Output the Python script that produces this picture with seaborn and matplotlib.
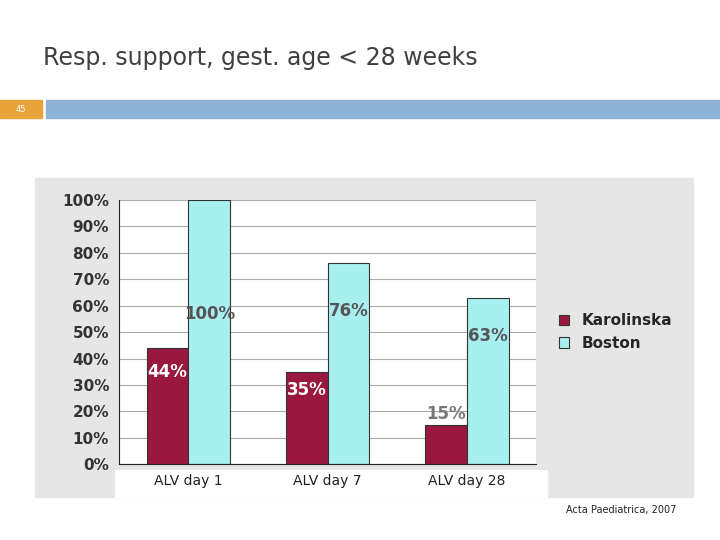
import pandas as pd
import matplotlib.pyplot as plt
import seaborn as sns

# Data
categories = ["ALV day 1", "ALV day 7", "ALV day 28"]
karolinska = [44, 35, 15]
boston = [100, 76, 63]
series = ["Karolinska", "Boston"]

df = pd.DataFrame({
    "Category": categories * 2,
    "Value": karolinska + boston,
    "Hospital": [series[0]] * 3 + [series[1]] * 3,
})

sns.set_style("white")
plt.rcParams["font.family"] = ["DejaVu Sans"]

fig = plt.figure(figsize=(7.2, 5.4), dpi=100)

# Slide header
fig.text(0.06, 0.893, "Resp. support, gest. age < 28 weeks", fontsize=17, color="#404040", va="center")
fig.text(0.029, 0.798, "45", fontsize=6, color="white", ha="center", va="center", zorder=5)

# Header bars and photo background drawn on a background axes
bg = fig.add_axes([0, 0, 1, 1], zorder=-1)
bg.set_xlim(0, 1)
bg.set_ylim(0, 1)
bg.axis("off")
bg.add_patch(plt.Rectangle((0.0, 0.782), 0.058, 0.033, color="#E8A33A"))
bg.add_patch(plt.Rectangle((0.064, 0.782), 0.936, 0.033, color="#8FB3D4"))
bg.add_patch(plt.Rectangle((0.049, 0.08), 0.913, 0.59, color="#E6E6E6"))
bg.add_patch(plt.Rectangle((0.16, 0.08), 0.6, 0.05, color="white"))

ax = fig.add_axes([0.165, 0.14, 0.58, 0.49])
ax.set_facecolor("white")
sns.barplot(data=df, x="Category", y="Value", hue="Hospital",
            palette=["#9A1840", "#A8F0F0"], saturation=1, edgecolor="#333333", linewidth=0.8,
            width=0.6, ax=ax)
ax.set_ylim(0, 100)
ax.set_yticks(range(0, 101, 10))
ax.set_yticklabels([f"{v}%" for v in range(0, 101, 10)], fontsize=11, fontweight="bold", color="#333333")
ax.yaxis.grid(True, color="#AAAAAA", linewidth=0.8)
ax.set_axisbelow(True)
ax.set_xlabel("")
ax.set_ylabel("")
ax.set_xticks(range(3))
ax.set_xticklabels(categories, fontsize=10, color="#222222")
for s in ["top", "right"]:
    ax.spines[s].set_visible(False)

for i, (k, b) in enumerate(zip(karolinska, boston)):
    ky = k + 2 if k < 20 else k * 0.75
    kc = "#777777" if k < 20 else "white"
    ax.text(i - 0.15, ky, f"{k}%", ha="center", fontsize=12, fontweight="bold", color=kc)
    ax.text(i + 0.15, b * 0.74 if b < 100 else 55, f"{b}%", ha="center", fontsize=12,
            fontweight="bold", color="#555555")

ax.legend(loc="center left", bbox_to_anchor=(1.02, 0.5), frameon=False,
          prop={"size": 11, "weight": "bold"}, handlelength=0.7, handleheight=0.7)

fig.text(0.94, 0.05, "Acta Paediatrica, 2007", fontsize=7, ha="right", color="#222222")

fig.savefig("out.png", dpi=100)
